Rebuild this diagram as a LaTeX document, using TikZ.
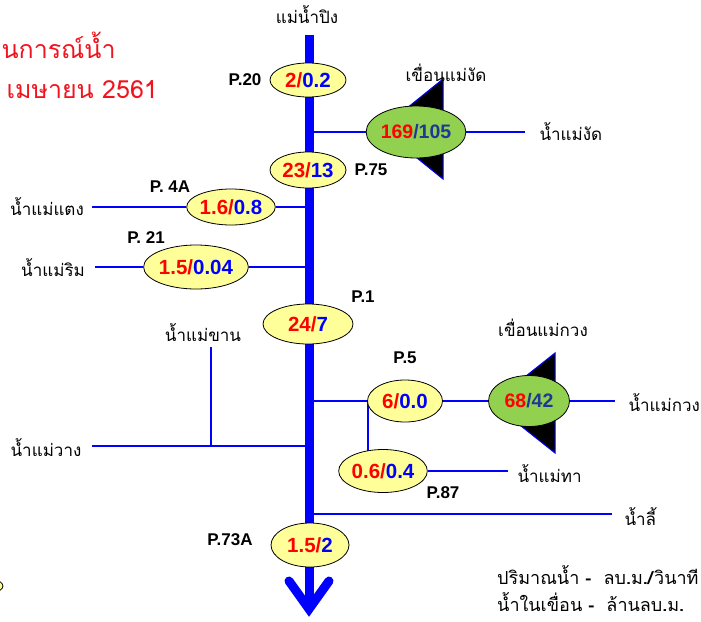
\documentclass[tikz,border=0pt]{standalone}
\usepackage{fontspec}
\setmainfont{Liberation Sans}
\newfontfamily\thaifont[Script=Thai]{Loma}
\usetikzlibrary{shapes.geometric}
\pgfdeclarelayer{background}
\pgfsetlayers{background,main}

\definecolor{gaugeyellow}{RGB}{255,255,153}
\definecolor{damgreen}{RGB}{146,208,80}
\definecolor{flowred}{RGB}{255,0,0}
\definecolor{flowblue}{RGB}{0,0,255}
\definecolor{damblue}{RGB}{31,56,150}
\definecolor{riverblue}{RGB}{0,0,255}
\definecolor{titlered}{RGB}{240,20,30}

\newcommand{\flow}[2]{\textcolor{flowred}{#1/}\textcolor{flowblue}{#2}}
\newcommand{\store}[2]{\textcolor{flowred}{#1}\textcolor{damblue}{/#2}}

\tikzset{
  river/.style={draw=riverblue, line width=9pt},
  branch/.style={draw=riverblue, line width=2.4pt},
  gauge/.style={ellipse, draw=black, line width=0.8pt, fill=gaugeyellow, inner sep=0pt,
    minimum width=76pt, minimum height=40pt, font=\fontsize{20.5}{20}\selectfont\bfseries},
  damlake/.style={ellipse, draw=black, line width=0.8pt, fill=damgreen, inner sep=0pt,
    minimum width=84pt, minimum height=52pt, font=\fontsize{19.5}{19}\selectfont\bfseries},
  damwall/.style={draw=riverblue, line width=1pt, fill=black},
  station/.style={font=\fontsize{17}{17}\selectfont\bfseries},
  stream/.style={font=\fontsize{17}{17}\selectfont\thaifont},
  legend/.style={anchor=west, inner sep=0pt, font=\fontsize{18}{18}\selectfont\thaifont},
  heading/.style={anchor=west, text=titlered, font=\fontsize{25}{25}\selectfont\thaifont},
}

\begin{document}
\begin{tikzpicture}[x=1pt,y=-1pt]
\useasboundingbox (0,0) rectangle (701,621);

\node[heading] (title1) at (-2,45) {นการณ์น้ำ};
\node[heading] (title2) at (3,90) {เมษายน 2561};

\node[stream] (ping) at (307,15) {แม่น้ำปิง};
\coordinate (source) at (309,35);
\coordinate (mouth) at (309,609);

\node[gauge, minimum height=34pt] (p20) at (308,80) {\flow{2}{0.2}};
\node[station] (p20lbl) at (245,80) {P.20};

\node[damlake] (ngat) at (416,132) {\store{169}{105}};
\node[stream] (ngatdam) at (446,73) {เขื่อนแม่งัด};
\coordinate (jngat) at (309,132);
\coordinate (ngatend) at (525,132);
\node[stream, anchor=west] (ngatriver) at (536,132) {น้ำแม่งัด};

\node[gauge, minimum height=36pt] (p75) at (308,170) {\flow{23}{13}};
\node[station] (p75lbl) at (371,170) {P.75};

\node[gauge, minimum width=74pt, minimum height=36pt] (p4a) at (231,207) {\flow{1.6}{0.8}};
\node[station] (p4albl) at (170,187) {P. 4A};
\coordinate (jtaeng) at (309,207);
\coordinate (taengend) at (92,207);
\node[stream] (taeng) at (47,207) {น้ำแม่แตง};

\node[gauge, minimum height=44pt] (p21) at (196,267) {\flow{1.5}{0.04}};
\node[station] (p21lbl) at (146,238) {P. 21};
\coordinate (jrim) at (309,267);
\coordinate (rimend) at (95,267);
\node[stream] (rim) at (53,268) {น้ำแม่ริม};

\node[gauge, minimum width=90pt, minimum height=40pt] (p1) at (308,324) {\flow{24}{7}};
\node[station] (p1lbl) at (363,297) {P.1};

\node[stream] (khan) at (203,333) {น้ำแม่ขาน};
\coordinate (khantop) at (211,347);
\coordinate (khanjoin) at (211,446);
\coordinate (jwang) at (309,446);
\coordinate (wangend) at (92,446);
\node[stream] (wang) at (46,448) {น้ำแม่วาง};

\node[gauge, minimum width=75pt, minimum height=42pt] (p5) at (405,401) {\flow{6}{0.0}};
\node[station] (p5lbl) at (405,358) {P.5};
\coordinate (jkuang) at (309,401);
\coordinate (thajoin) at (368,401);
\node[damlake, minimum width=81pt, minimum height=51pt] (kuang) at (529,401) {\store{68}{42}};
\node[stream] (kuangdam) at (543,328) {เขื่อนแม่กวง};
\coordinate (kuangend) at (615,401);
\node[stream, anchor=west] (kuangriver) at (625,403) {น้ำแม่กวง};

\node[gauge, minimum width=77pt, minimum height=43pt] (p87) at (383,471) {\flow{0.6}{0.4}};
\node[station] (p87lbl) at (443,493) {P.87};
\coordinate (thaend) at (508,471);
\node[stream, anchor=west] (tha) at (514,474) {น้ำแม่ทา};

\coordinate (jli) at (309,514);
\coordinate (liend) at (612,514);
\node[stream, anchor=west] (li) at (621,517) {น้ำลี้};

\node[gauge, minimum width=78pt, minimum height=44pt] (p73a) at (310,545) {\flow{1.5}{2}};
\node[station] (p73albl) at (230,540) {P.73A};

\node[gauge, minimum width=76pt, minimum height=22pt] (cut) at (-35,586) {};

\node[legend] (unit1) at (497,575) {ปริมาณน้ำ \textbf{-}\ \ ลบ\textbf{.}ม\textbf{./}วินาที};
\node[legend] (unit2) at (497,602) {น้ำในเขื่อน \textbf{-}\ \ ล้านลบ\textbf{.}ม\textbf{.}};

\begin{pgfonlayer}{background}
\draw[river] (source) -- (mouth);
\draw[river, line cap=round] ([shift={(-20,-28)}]mouth) -- (mouth) -- ([shift={(20,-28)}]mouth);
\draw[branch] (jngat) -- (ngat) -- (ngatend);
\draw[damwall] ([shift={(27,-53)}]ngat.center) -- ++(0,100) -- ++(-62,-50) -- cycle;
\draw[branch] (taengend) -- (p4a) -- (jtaeng);
\draw[branch] (rimend) -- (p21) -- (jrim);
\draw[branch] (khantop) -- (khanjoin);
\draw[branch] (wangend) -- (jwang);
\draw[branch] (jkuang) -- (p5) -- (kuang) -- (kuangend);
\draw[damwall] ([shift={(26,-48)}]kuang.center) -- ++(0,100) -- ++(-63,-50) -- cycle;
\draw[branch] (thajoin) -- (thajoin |- p87.center);
\draw[branch] (p87) -- (thaend);
\draw[branch] (jli) -- (liend);
\end{pgfonlayer}
\end{tikzpicture}
\end{document}
